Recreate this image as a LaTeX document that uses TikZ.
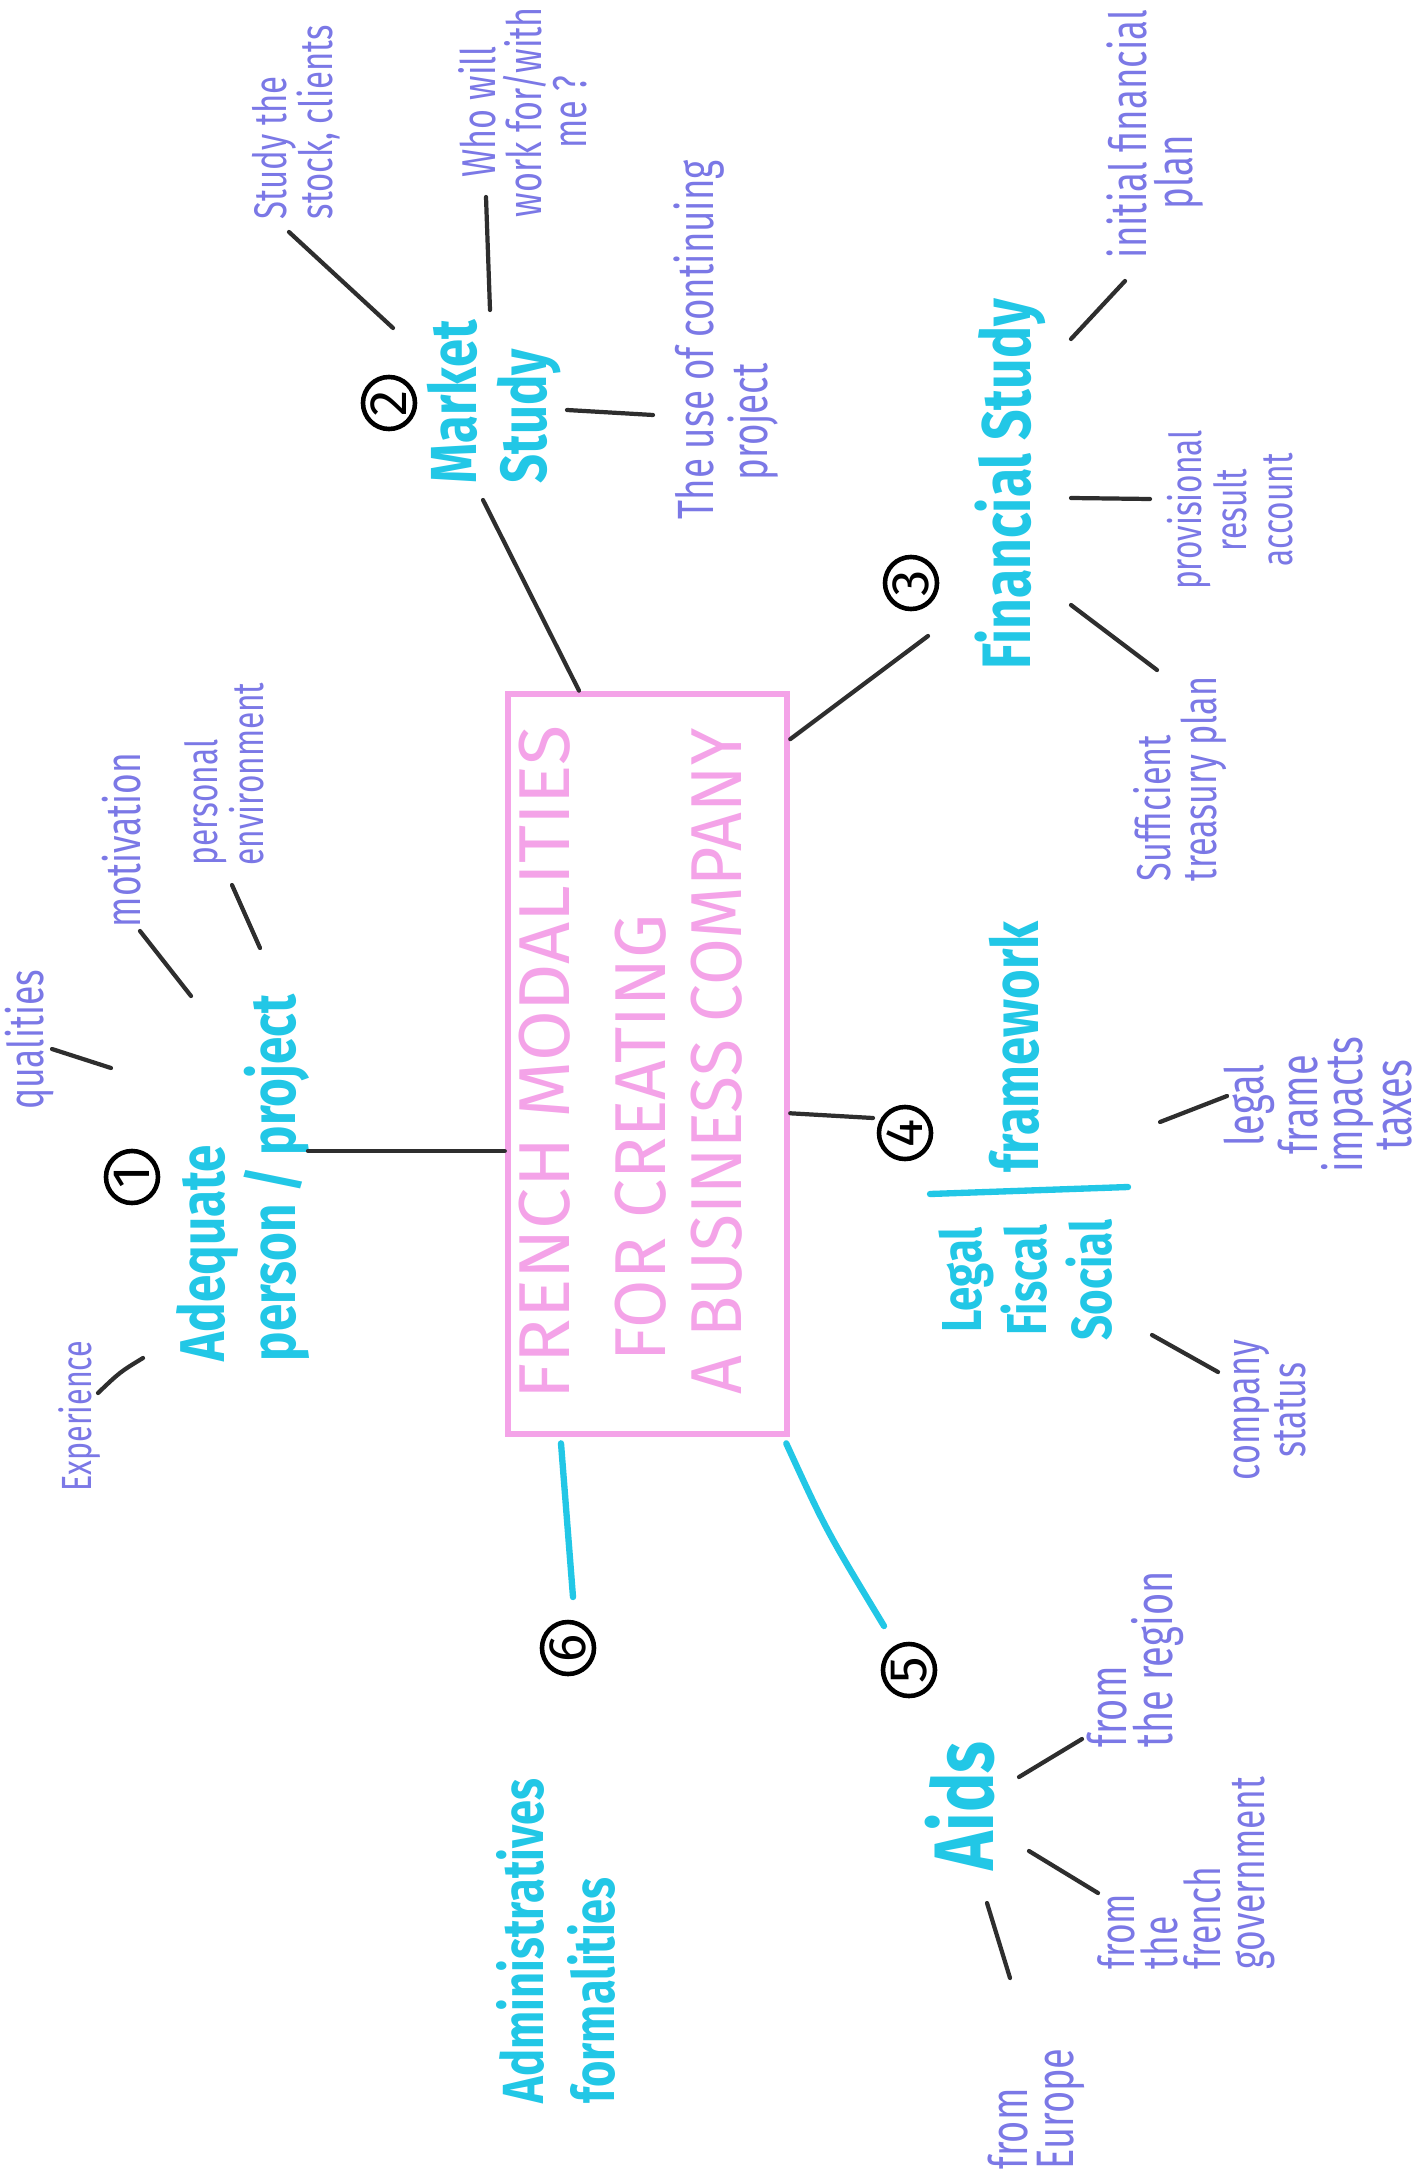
\documentclass[tikz,border=0pt]{standalone}
\usepackage{fontspec}
\setmainfont{Fira Sans}
\newfontfamily\titlef{Fira Sans}
\newfontfamily\topicf[FakeStretch=0.78]{Fira Sans}
\newfontfamily\notef[FakeStretch=0.72]{Fira Sans}
\usetikzlibrary{calc}
\definecolor{cyanT}{HTML}{22C7E6}
\definecolor{violetT}{HTML}{7B78E6}
\definecolor{pinkT}{HTML}{F4A3E8}
\definecolor{lineK}{HTML}{2E2E2E}
\tikzset{
  topic/.style={rotate=90, text=cyanT, font=\topicf\bfseries\fontsize{#1}{20}\selectfont, align=left, inner sep=0pt},
  topic/.default=18,
  note/.style={rotate=90, text=violetT, font=\notef\fontsize{#1}{13}\selectfont, align=left, inner sep=0pt},
  note/.default=14,
  titletext/.style={rotate=90, text=pinkT, font=\titlef\fontsize{20.5}{24}\selectfont, anchor=west, inner sep=0pt},
  num/.style={circle, draw=black, line width=1.3pt, minimum size=0.52cm, inner sep=0pt, rotate=90, font=\fontsize{15}{15}\selectfont},
  stroke/.style={draw=lineK, line width=1.2pt, line cap=round},
  cyanline/.style={draw=cyanT, line width=1.8pt, line cap=round},
}
\begin{document}
\begin{tikzpicture}[x=0.01cm, y=-0.01cm]
\fill[white] (0,0) rectangle (1423,2179);
\useasboundingbox (0,0) rectangle (1423,2179);

% central box
\node[draw=pinkT, line width=1.8pt, minimum width=2.79cm, minimum height=7.40cm, inner sep=0pt] (box) at (647.5,1064) {};
\node[titletext] (t1) at (545,1400) {\scalebox{1.02}[1]{FRENCH MODALITIES}};
\node[titletext] (t2) at (641,1362) {\scalebox{0.97}[1]{FOR CREATING}};
\node[titletext] (t3) at (717,1395) {\scalebox{0.94}[1]{A BUSINESS COMPANY}};

% numbers
\node[num] (n1) at (132,1177) {1};
\node[num] (n2) at (389,403) {2};
\node[num] (n3) at (911,583) {3};
\node[num] (n4) at (905,1133) {4};
\node[num] (n5) at (909,1670) {5};
\node[num] (n6) at (568,1648) {6};

% topics
\node[topic=18, anchor=west] (adeq) at (243,1362) {Adequate\\person / project};
\node[topic=18.5, anchor=west] (market) at (494,484) {Market\\Study};
\node[topic=19.5, anchor=west] (fin) at (1010,670) {Financial Study};
\node[topic=16, align=center, font=\topicf\bfseries\fontsize{16}{18.5}\selectfont] (lfs) at (1026,1280) {Legal\\Fiscal\\Social};
\node[topic=18.5] (frame) at (1014,1047) {framework};
\coordinate (dv1) at (930,1194);
\coordinate (dv2) at (1128,1187);
\draw[cyanline] (dv1) -- (dv2);
\node[topic=24] (aids) at (960,1806) {Aids};
\node[topic=16.5, anchor=west] (admin) at (556,2104) {Administratives\\formalities};

% notes
\node[note=14] (qual) at (30,1040) {qualities};
\node[note=14] (moti) at (122,840) {motivation};
\node[note=12.5, anchor=west] (pers) at (224,866) {personal\\environment};
\node[note=12] (expe) at (80,1416) {Experience};
\node[note=13, anchor=west] (stock) at (296,220) {Study the\\stock, clients};
\node[note=13.5, align=center] (who) at (523,112) {Who will\\work for/with\\me ?};
\node[note=14.5, anchor=west, font=\notef\fontsize{14.5}{12}\selectfont] (use) at (726,520) {The use of continuing\\\hspace*{11pt}project};
\node[note=14.5, anchor=west] (init) at (1155,259) {initial financial\\\hspace*{14pt}plan};
\node[note=12.5, align=center] (prov) at (1230,510) {provisional\\result\\account};
\node[note=13.5, anchor=west] (suff) at (1180,882) {Sufficient\\treasury plan};
\node[note=15, align=center, font=\notef\fontsize{15}{12.6}\selectfont] (legal) at (1318,1105) {legal\\frame\\impacts\\taxes};
\node[note=13.5, align=center] (comp) at (1270,1410) {company\\status};
\node[note=15, anchor=west] (region) at (1135,1748) {from\\the region};
\node[note=14, anchor=west, font=\notef\fontsize{14}{12.3}\selectfont] (gov) at (1186,1970) {from\\the\\french\\government};
\node[note=15, anchor=west] (europe) at (1036,2170) {from\\Europe};

% connectors from the box to the topics
\coordinate (cA) at (308,1151);
\coordinate (cM) at (483,500);
\coordinate (cF) at (928,636);
\coordinate (cL) at (873,1118);
\coordinate (c5) at (884,1626);
\coordinate (c6) at (573,1597);
\draw[stroke] (cA -| box.west) -- (cA);
\draw[stroke] ($(box.north west)!0.26!(box.north east)$) -- (cM);
\draw[stroke] ($(box.north east)!0.065!(box.south east)$) -- (cF);
\draw[stroke] ($(box.north east)!0.566!(box.south east)$) -- (cL);
\draw[cyanline] ($(box.south east)+(-4,6)$) .. controls (826,1530) .. (c5);
\draw[cyanline] ($(box.south west)!0.197!(box.south east)+(0,6)$) -- (c6);

% strokes to the notes
\coordinate (qa) at (52,1049);   \coordinate (qb) at (111,1068);
\coordinate (ma) at (140,931);   \coordinate (mb) at (191,996);
\coordinate (pa) at (232,885);   \coordinate (pb) at (260,948);
\coordinate (ea) at (98,1393);   \coordinate (eb) at (143,1358);
\coordinate (sa) at (289,232);   \coordinate (sb) at (393,328);
\coordinate (wa) at (486,197);   \coordinate (wb) at (490,310);
\coordinate (ua) at (567,410);   \coordinate (ub) at (653,415);
\coordinate (ia) at (1071,339);  \coordinate (ib) at (1125,281);
\coordinate (ra) at (1071,498);  \coordinate (rb) at (1150,499);
\coordinate (fa) at (1071,605);  \coordinate (fb) at (1157,670);
\coordinate (la) at (1160,1122); \coordinate (lb) at (1227,1096);
\coordinate (ka) at (1152,1335); \coordinate (kb) at (1218,1372);
\coordinate (ga) at (1019,1777); \coordinate (gb) at (1082,1739);
\coordinate (ha) at (1029,1851); \coordinate (hb) at (1098,1893);
\coordinate (ja) at (987,1903);  \coordinate (jb) at (1010,1978);
\foreach \a/\b in {qa/qb, ma/mb, pa/pb, sa/sb, wa/wb, ua/ub, ia/ib, ra/rb, fa/fb, la/lb, ka/kb, ga/gb, ha/hb, ja/jb}
  \draw[stroke] (\a) -- (\b);
\draw[stroke] (ea) .. controls (120,1372) .. (eb);
\end{tikzpicture}
\end{document}
